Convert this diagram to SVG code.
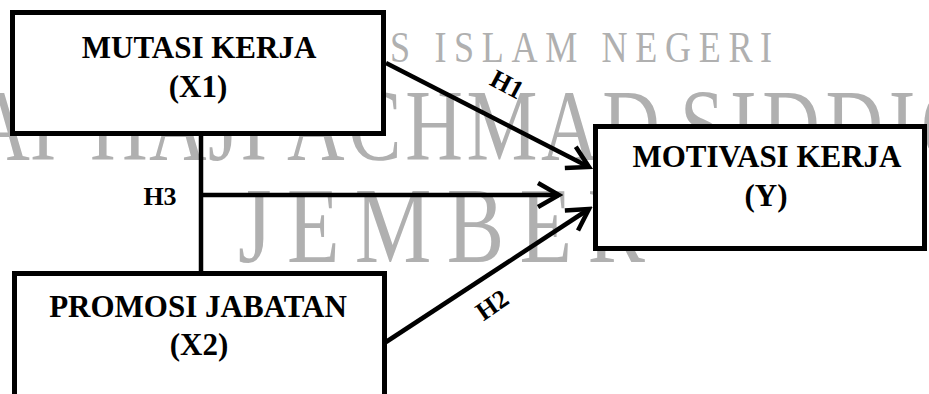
<svg xmlns="http://www.w3.org/2000/svg" width="929" height="394" viewBox="0 0 929 394">
<style>
.wm{font-family:"Liberation Serif","Times New Roman",serif;fill:#b0b0b0}
.box{fill:#fff;stroke:#000;stroke-width:5}
.lbl{font-family:"Liberation Serif","Times New Roman",serif;font-weight:bold;font-size:31px;text-anchor:middle;fill:#000}
.h{font-family:"Liberation Serif","Times New Roman",serif;font-weight:bold;font-size:26px;text-anchor:middle;fill:#000}
.con{fill:none;stroke:#000;stroke-width:4.5}
</style>
<defs>
<marker id="arr" markerUnits="userSpaceOnUse" markerWidth="30" markerHeight="30" viewBox="-26 -15 30 30" refX="0" refY="0" orient="auto">
<path d="M-21,-12 L0,0 L-21,12" fill="none" stroke="#000" stroke-width="4.5"/>
</marker>
</defs>
<rect width="929" height="394" fill="#fff"/>
<g id="watermark">
<text class="wm" transform="scale(0.82,1)" x="475.6" y="62" font-size="44" textLength="466" lengthAdjust="spacing">S ISLAM NEGERI</text>
<g transform="scale(0.79,1)" font-size="101">
<text class="wm" x="-141.8" y="160">KIAI</text>
<text class="wm" x="114" y="160" textLength="224" lengthAdjust="spacing">HAJI</text>
<text class="wm" x="363.3" y="160" textLength="472" lengthAdjust="spacing">ACHMAD</text>
<text class="wm" x="860.8" y="160" textLength="378" lengthAdjust="spacing">SIDDIQ</text>
</g>
<text class="wm" transform="scale(0.79,1)" x="301.3" y="262" font-size="109" textLength="515" lengthAdjust="spacing">JEMBER</text>
</g>
<g id="connectors">
<path class="con" d="M201,136 L201,272"/>
<path class="con" d="M201,195 L559,195" marker-end="url(#arr)"/>
<path class="con" d="M386,63 L589,167" marker-end="url(#arr)"/>
<path class="con" d="M386,342 L589,209" marker-end="url(#arr)"/>
<text class="h" x="160" y="205" font-size="28">H3</text>
<text class="h" transform="translate(503,92) rotate(28)">H1</text>
<text class="h" transform="translate(497,312) rotate(-35)">H2</text>
</g>
<g id="x1">
<rect class="box" x="12.5" y="12.5" width="371" height="121"/>
<text class="lbl" x="199" y="58">MUTASI KERJA</text>
<text class="lbl" x="198" y="97">(X1)</text>
</g>
<g id="y">
<rect class="box" x="595.5" y="126.5" width="329" height="122"/>
<text class="lbl" x="767" y="167">MOTIVASI KERJA</text>
<text class="lbl" x="766" y="206">(Y)</text>
</g>
<g id="x2">
<rect class="box" x="14.5" y="273.5" width="370" height="200"/>
<text class="lbl" x="198" y="317">PROMOSI JABATAN</text>
<text class="lbl" x="199" y="355">(X2)</text>
</g>
</svg>
